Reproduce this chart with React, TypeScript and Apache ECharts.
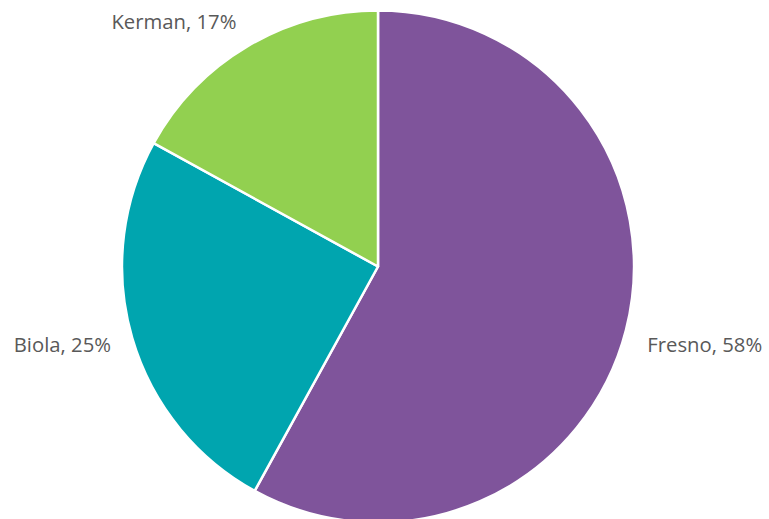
import React, { useEffect, useRef } from "react";
import * as echarts from "echarts";

const categories = ["Fresno", "Biola", "Kerman"];
const values = [58, 25, 17];
const colors = ["#7F549B", "#00A5AF", "#92D050"];

const CX = 378;
const CY = 266.5;
const R = 256;
const LABEL_DIST = 278;
const FONT_SIZE = 20.3;

export default function App() {
  const ref = useRef<HTMLDivElement>(null);
  useEffect(() => {
    if (!ref.current) return;
    const chart = echarts.init(ref.current, undefined, { renderer: "svg" });
    const total = values.reduce((a, b) => a + b, 0);
    const mids: number[] = [];
    let acc = 0;
    values.forEach((v) => {
      mids.push(((acc + v / 2) / total) * Math.PI * 2);
      acc += v;
    });
    chart.setOption({
      animation: false,
      backgroundColor: "#ffffff",
      series: [
        {
          type: "pie",
          center: [CX, CY],
          radius: R,
          startAngle: 90,
          clockwise: true,
          data: categories.map((c, i) => ({
            name: c,
            value: values[i],
            itemStyle: { color: colors[i] },
          })),
          itemStyle: { borderColor: "#ffffff", borderWidth: 2.5 },
          label: {
            show: true,
            position: "outside",
            overflow: "none",
            formatter: (p: any) => `${p.name}, ${Math.round(p.percent)}%`,
            fontFamily: "Open Sans",
            fontSize: FONT_SIZE,
            color: "#595959",
          },
          labelLine: { show: false, length: 23, length2: 0 },
          labelLayout: (p: any) => {
            const a = mids[p.dataIndex];
            const dx = Math.sin(a);
            const dy = -Math.cos(a);
            const x = CX + LABEL_DIST * dx;
            const y = CY + LABEL_DIST * dy;
            let va = "middle";
            if (dy < -0.5) va = "bottom";
            else if (dy > 0.5) va = "top";
            return {
              x,
              y: va === "middle" ? 344 : va === "bottom" ? y + 4 : y,
              align: dx >= 0 ? "left" : "right",
              verticalAlign: va,
              fontSize: FONT_SIZE,
            };
          },
        },
      ],
    });
    return () => chart.dispose();
  }, []);
  return (
    <div
      ref={ref}
      style={{ position: "absolute", left: 0, top: 0, width: 769, height: 519 }}
    />
  );
}
